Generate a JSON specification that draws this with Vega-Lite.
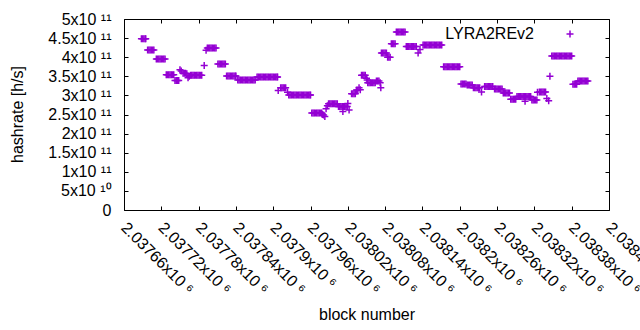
{
  "$schema": "https://vega.github.io/schema/vega-lite/v6.json",
  "width": 485,
  "height": 191,
  "autosize": {"type": "none"},
  "padding": {"left": 124, "top": 19, "right": 31, "bottom": 120},
  "background": "white",
  "config": {
    "view": {"stroke": "black", "strokeWidth": 1},
    "font": "Liberation Sans",
    "axis": {
      "domain": false, "grid": false, "tickSize": -4, "tickColor": "black", "tickWidth": 1,
      "labelColor": "black", "titleColor": "black",
      "labelFont": "Liberation Sans", "titleFont": "Liberation Sans",
      "labelFontSize": 16, "titleFontSize": 16, "titleFontWeight": "normal",
      "labelOverlap": false, "labelBound": false, "labelFlush": false
    }
  },
  "data": {"values": [
    {"b":2037688,"h":4.48e11},{"b":2037690,"h":4.48e11},{"b":2037692,"h":4.48e11},{"b":2037694,"h":4.48e11},{"b":2037695,"h":4.48e11},
    {"b":2037698,"h":4.19e11},{"b":2037700,"h":4.19e11},{"b":2037702,"h":4.19e11},{"b":2037704,"h":4.19e11},{"b":2037706,"h":4.19e11},{"b":2037708,"h":4.19e11},
    {"b":2037712,"h":3.95e11},{"b":2037714,"h":3.95e11},{"b":2037716,"h":3.95e11},{"b":2037718,"h":3.95e11},{"b":2037720,"h":3.95e11},{"b":2037722,"h":3.95e11},{"b":2037724,"h":3.95e11},{"b":2037726,"h":3.95e11},
    {"b":2037728,"h":3.54e11},{"b":2037730,"h":3.54e11},{"b":2037732,"h":3.54e11},{"b":2037734,"h":3.54e11},{"b":2037736,"h":3.54e11},{"b":2037738,"h":3.54e11},{"b":2037740,"h":3.54e11},
    {"b":2037742,"h":3.39e11},{"b":2037744,"h":3.39e11},{"b":2037746,"h":3.39e11},{"b":2037748,"h":3.39e11},
    {"b":2037750,"h":3.67e11},{"b":2037752,"h":3.64e11},{"b":2037755,"h":3.58e11},{"b":2037757,"h":3.58e11},{"b":2037759,"h":3.58e11},{"b":2037761,"h":3.57e11},{"b":2037763,"h":3.46e11},{"b":2037765,"h":3.50e11},
    {"b":2037767,"h":3.53e11},{"b":2037769,"h":3.53e11},{"b":2037771,"h":3.53e11},{"b":2037773,"h":3.53e11},{"b":2037775,"h":3.53e11},{"b":2037777,"h":3.53e11},{"b":2037779,"h":3.53e11},{"b":2037781,"h":3.53e11},{"b":2037783,"h":3.53e11},{"b":2037785,"h":3.53e11},
    {"b":2037789,"h":3.78e11},
    {"b":2037792,"h":4.18e11},{"b":2037794,"h":4.24e11},{"b":2037796,"h":4.24e11},{"b":2037798,"h":4.24e11},{"b":2037800,"h":4.24e11},{"b":2037802,"h":4.24e11},{"b":2037804,"h":4.24e11},{"b":2037806,"h":4.24e11},{"b":2037808,"h":4.24e11},
    {"b":2037811,"h":3.82e11},{"b":2037813,"h":3.82e11},{"b":2037815,"h":3.82e11},{"b":2037817,"h":3.82e11},{"b":2037819,"h":3.82e11},{"b":2037821,"h":3.82e11},{"b":2037823,"h":3.82e11},
    {"b":2037825,"h":3.51e11},{"b":2037827,"h":3.51e11},{"b":2037829,"h":3.51e11},{"b":2037831,"h":3.51e11},{"b":2037833,"h":3.51e11},{"b":2037835,"h":3.51e11},{"b":2037837,"h":3.51e11},{"b":2037839,"h":3.51e11},{"b":2037840,"h":3.51e11},
    {"b":2037843,"h":3.40e11},{"b":2037845,"h":3.40e11},{"b":2037847,"h":3.40e11},{"b":2037849,"h":3.40e11},{"b":2037851,"h":3.40e11},{"b":2037853,"h":3.40e11},{"b":2037855,"h":3.40e11},{"b":2037857,"h":3.40e11},{"b":2037859,"h":3.40e11},{"b":2037861,"h":3.40e11},{"b":2037863,"h":3.40e11},{"b":2037865,"h":3.40e11},{"b":2037867,"h":3.40e11},{"b":2037869,"h":3.40e11},{"b":2037871,"h":3.40e11},
    {"b":2037874,"h":3.48e11},{"b":2037876,"h":3.48e11},{"b":2037878,"h":3.48e11},{"b":2037880,"h":3.48e11},{"b":2037882,"h":3.48e11},{"b":2037884,"h":3.48e11},{"b":2037886,"h":3.48e11},{"b":2037888,"h":3.48e11},{"b":2037890,"h":3.48e11},{"b":2037892,"h":3.48e11},{"b":2037894,"h":3.48e11},{"b":2037896,"h":3.48e11},{"b":2037898,"h":3.48e11},{"b":2037900,"h":3.48e11},{"b":2037902,"h":3.48e11},{"b":2037904,"h":3.48e11},{"b":2037906,"h":3.48e11},{"b":2037907,"h":3.48e11},
    {"b":2037908,"h":3.13e11},{"b":2037912,"h":3.20e11},{"b":2037914,"h":3.20e11},{"b":2037916,"h":3.20e11},{"b":2037918,"h":3.20e11},{"b":2037920,"h":3.20e11},{"b":2037923,"h":3.08e11},
    {"b":2037925,"h":3.01e11},{"b":2037927,"h":3.01e11},{"b":2037929,"h":3.01e11},{"b":2037931,"h":3.01e11},{"b":2037933,"h":3.01e11},{"b":2037935,"h":3.01e11},{"b":2037937,"h":3.01e11},{"b":2037939,"h":3.01e11},{"b":2037941,"h":3.01e11},{"b":2037943,"h":3.01e11},{"b":2037945,"h":3.01e11},{"b":2037947,"h":3.01e11},{"b":2037949,"h":3.01e11},{"b":2037951,"h":3.01e11},{"b":2037953,"h":3.01e11},{"b":2037955,"h":3.01e11},{"b":2037957,"h":3.01e11},{"b":2037959,"h":3.01e11},{"b":2037960,"h":3.01e11},
    {"b":2037962,"h":2.54e11},{"b":2037964,"h":2.54e11},{"b":2037966,"h":2.54e11},{"b":2037968,"h":2.54e11},{"b":2037970,"h":2.54e11},{"b":2037972,"h":2.54e11},{"b":2037974,"h":2.54e11},{"b":2037976,"h":2.54e11},{"b":2037978,"h":2.54e11},{"b":2037979,"h":2.50e11},{"b":2037981,"h":2.49e11},{"b":2037983,"h":2.45e11},
    {"b":2037985,"h":2.65e11},{"b":2037987,"h":2.73e11},{"b":2037989,"h":2.78e11},{"b":2037991,"h":2.78e11},{"b":2037993,"h":2.78e11},{"b":2037995,"h":2.78e11},{"b":2037997,"h":2.78e11},{"b":2037999,"h":2.78e11},{"b":2038001,"h":2.78e11},{"b":2038003,"h":2.78e11},
    {"b":2038005,"h":2.71e11},{"b":2038007,"h":2.71e11},{"b":2038009,"h":2.71e11},{"b":2038011,"h":2.71e11},{"b":2038012,"h":2.58e11},{"b":2038013,"h":2.71e11},{"b":2038015,"h":2.71e11},{"b":2038017,"h":2.71e11},{"b":2038019,"h":2.71e11},{"b":2038020,"h":2.79e11},{"b":2038022,"h":2.62e11},
    {"b":2038026,"h":3.04e11},{"b":2038028,"h":3.04e11},{"b":2038030,"h":3.04e11},{"b":2038032,"h":3.04e11},{"b":2038034,"h":3.14e11},{"b":2038036,"h":3.14e11},{"b":2038038,"h":3.20e11},{"b":2038040,"h":3.15e11},
    {"b":2038042,"h":3.53e11},{"b":2038044,"h":3.53e11},{"b":2038046,"h":3.53e11},{"b":2038048,"h":3.53e11},{"b":2038050,"h":3.45e11},{"b":2038051,"h":3.40e11},
    {"b":2038052,"h":3.33e11},{"b":2038054,"h":3.33e11},{"b":2038056,"h":3.33e11},{"b":2038058,"h":3.33e11},{"b":2038060,"h":3.33e11},{"b":2038062,"h":3.33e11},{"b":2038064,"h":3.33e11},{"b":2038066,"h":3.38e11},{"b":2038068,"h":3.38e11},{"b":2038070,"h":3.38e11},{"b":2038072,"h":3.33e11},{"b":2038073,"h":3.20e11},
    {"b":2038074,"h":4.11e11},{"b":2038076,"h":4.11e11},{"b":2038078,"h":4.11e11},{"b":2038080,"h":4.11e11},{"b":2038082,"h":4.11e11},{"b":2038084,"h":4.00e11},{"b":2038086,"h":4.00e11},{"b":2038088,"h":4.00e11},
    {"b":2038090,"h":4.35e11},{"b":2038092,"h":4.35e11},{"b":2038094,"h":4.35e11},{"b":2038096,"h":4.35e11},
    {"b":2038098,"h":4.66e11},{"b":2038100,"h":4.66e11},{"b":2038102,"h":4.66e11},{"b":2038104,"h":4.66e11},{"b":2038106,"h":4.66e11},{"b":2038108,"h":4.66e11},{"b":2038110,"h":4.66e11},{"b":2038112,"h":4.66e11},
    {"b":2038114,"h":4.28e11},{"b":2038116,"h":4.28e11},{"b":2038118,"h":4.28e11},{"b":2038120,"h":4.28e11},{"b":2038122,"h":4.28e11},{"b":2038124,"h":4.28e11},{"b":2038126,"h":4.28e11},{"b":2038128,"h":4.28e11},{"b":2038130,"h":4.28e11},
    {"b":2038133,"h":4.11e11},{"b":2038136,"h":4.20e11},
    {"b":2038141,"h":4.32e11},{"b":2038143,"h":4.32e11},{"b":2038145,"h":4.32e11},{"b":2038147,"h":4.32e11},{"b":2038149,"h":4.32e11},{"b":2038151,"h":4.32e11},{"b":2038153,"h":4.32e11},{"b":2038155,"h":4.32e11},{"b":2038157,"h":4.32e11},{"b":2038159,"h":4.32e11},{"b":2038161,"h":4.32e11},{"b":2038163,"h":4.32e11},{"b":2038165,"h":4.32e11},{"b":2038167,"h":4.32e11},{"b":2038169,"h":4.32e11},{"b":2038171,"h":4.32e11},
    {"b":2038174,"h":3.75e11},{"b":2038176,"h":3.75e11},{"b":2038178,"h":3.75e11},{"b":2038180,"h":3.75e11},{"b":2038182,"h":3.75e11},{"b":2038184,"h":3.75e11},{"b":2038186,"h":3.75e11},{"b":2038188,"h":3.75e11},{"b":2038190,"h":3.75e11},{"b":2038192,"h":3.75e11},{"b":2038194,"h":3.75e11},{"b":2038196,"h":3.75e11},{"b":2038198,"h":3.75e11},{"b":2038200,"h":3.75e11},
    {"b":2038202,"h":3.30e11},{"b":2038204,"h":3.30e11},{"b":2038206,"h":3.30e11},{"b":2038208,"h":3.30e11},{"b":2038210,"h":3.30e11},
    {"b":2038212,"h":3.27e11},{"b":2038214,"h":3.27e11},{"b":2038216,"h":3.27e11},{"b":2038218,"h":3.27e11},{"b":2038220,"h":3.27e11},
    {"b":2038222,"h":3.20e11},{"b":2038224,"h":3.20e11},{"b":2038226,"h":3.20e11},{"b":2038228,"h":3.20e11},{"b":2038230,"h":3.20e11},{"b":2038232,"h":3.20e11},{"b":2038235,"h":3.09e11},
    {"b":2038240,"h":3.23e11},{"b":2038242,"h":3.23e11},{"b":2038244,"h":3.23e11},{"b":2038246,"h":3.23e11},{"b":2038248,"h":3.23e11},{"b":2038250,"h":3.23e11},{"b":2038252,"h":3.23e11},{"b":2038253,"h":3.23e11},
    {"b":2038256,"h":3.17e11},{"b":2038258,"h":3.17e11},{"b":2038260,"h":3.17e11},{"b":2038262,"h":3.17e11},{"b":2038264,"h":3.17e11},{"b":2038266,"h":3.17e11},{"b":2038268,"h":3.17e11},
    {"b":2038270,"h":3.06e11},{"b":2038272,"h":3.06e11},{"b":2038274,"h":3.06e11},{"b":2038276,"h":3.06e11},{"b":2038278,"h":3.06e11},{"b":2038280,"h":3.06e11},
    {"b":2038282,"h":2.90e11},{"b":2038284,"h":2.90e11},{"b":2038286,"h":2.90e11},{"b":2038288,"h":2.90e11},{"b":2038290,"h":2.90e11},
    {"b":2038292,"h":2.97e11},{"b":2038294,"h":2.97e11},{"b":2038296,"h":2.97e11},{"b":2038298,"h":2.97e11},{"b":2038300,"h":2.97e11},{"b":2038302,"h":2.97e11},{"b":2038304,"h":2.97e11},{"b":2038305,"h":2.85e11},
    {"b":2038306,"h":2.97e11},{"b":2038308,"h":2.97e11},{"b":2038310,"h":2.97e11},{"b":2038312,"h":2.97e11},{"b":2038314,"h":2.97e11},
    {"b":2038316,"h":2.88e11},{"b":2038318,"h":2.88e11},{"b":2038320,"h":2.88e11},{"b":2038322,"h":2.88e11},{"b":2038324,"h":2.88e11},{"b":2038325,"h":3.08e11},
    {"b":2038328,"h":3.09e11},{"b":2038330,"h":3.09e11},{"b":2038332,"h":3.09e11},{"b":2038334,"h":3.09e11},{"b":2038336,"h":3.09e11},{"b":2038338,"h":3.09e11},
    {"b":2038340,"h":2.92e11},{"b":2038343,"h":2.86e11},{"b":2038345,"h":3.50e11},
    {"b":2038348,"h":4.03e11},{"b":2038350,"h":4.03e11},{"b":2038352,"h":4.03e11},{"b":2038354,"h":4.03e11},{"b":2038356,"h":4.03e11},{"b":2038358,"h":4.03e11},{"b":2038360,"h":4.03e11},{"b":2038362,"h":4.03e11},{"b":2038364,"h":4.03e11},{"b":2038366,"h":4.03e11},{"b":2038368,"h":4.03e11},{"b":2038370,"h":4.03e11},{"b":2038372,"h":4.03e11},{"b":2038374,"h":4.03e11},{"b":2038376,"h":4.03e11},{"b":2038378,"h":4.03e11},{"b":2038380,"h":4.03e11},
    {"b":2038382,"h":3.29e11},{"b":2038384,"h":3.29e11},{"b":2038386,"h":3.29e11},{"b":2038388,"h":3.29e11},
    {"b":2038390,"h":3.38e11},{"b":2038392,"h":3.38e11},{"b":2038394,"h":3.38e11},{"b":2038396,"h":3.38e11},{"b":2038398,"h":3.38e11},{"b":2038400,"h":3.38e11},{"b":2038402,"h":3.38e11},{"b":2038404,"h":3.38e11},{"b":2038406,"h":3.38e11}
  ]},
  "layer": [
    {
      "mark": {"type": "point", "shape": "M-1,0H1M0,-1V1", "filled": false, "strokeWidth": 1.5, "size": 49, "opacity": 1},
      "encoding": {
        "x": {
          "field": "b", "type": "quantitative",
          "scale": {"domain": [2037660, 2038440], "nice": false, "zero": false},
          "axis": {
            "orient": "bottom",
            "values": [2037660, 2037720, 2037780, 2037840, 2037900, 2037960, 2038020, 2038080, 2038140, 2038200, 2038260, 2038320, 2038380, 2038440],
            "labelExpr": "format(datum.value / 1e6, '.6~g') + 'x10 ⁶'",
            "labelAngle": 45, "labelAlign": "left", "labelBaseline": "top", "labelPadding": 13, "labelOffset": 5,
            "title": "block number", "titleY": 104, "titleBaseline": "middle"
          }
        },
        "y": {
          "field": "h", "type": "quantitative",
          "scale": {"domain": [0, 5e11], "nice": false, "zero": true},
          "axis": {
            "orient": "left",
            "values": [0, 5e10, 1e11, 1.5e11, 2e11, 2.5e11, 3e11, 3.5e11, 4e11, 4.5e11, 5e11],
            "labelExpr": "datum.value == 0 ? '0' : (datum.value < 1e11 ? '5x10 ¹⁰' : format(datum.value / 1e11, '.2~g') + 'x10 ¹¹')",
            "labelPadding": 17,
            "title": "hashrate [h/s]", "titleX": -107, "titleY": 95, "titleAngle": -90, "titleAlign": "center", "titleBaseline": "middle"
          }
        },
        "color": {
          "datum": "LYRA2REv2",
          "scale": {"range": ["#9400d3"]},
          "legend": {
            "title": null, "orient": "none", "legendX": 438, "legendY": 7, "padding": 0,
            "symbolType": "M-1,0H1M0,-1V1", "symbolSize": 49, "symbolStrokeWidth": 1.5,
            "symbolStrokeColor": "#9400d3", "symbolFillColor": "transparent",
            "labelAlign": "right", "labelOffset": -44, "labelFontSize": 16, "labelFont": "Liberation Sans", "labelColor": "black"
          }
        }
      }
    },
    {
      "mark": {"type": "point", "opacity": 0},
      "encoding": {
        "x": {
          "field": "b", "type": "quantitative",
          "axis": {"orient": "top", "labels": false, "title": null,
            "values": [2037660, 2037720, 2037780, 2037840, 2037900, 2037960, 2038020, 2038080, 2038140, 2038200, 2038260, 2038320, 2038380, 2038440]}
        },
        "y": {
          "field": "h", "type": "quantitative",
          "axis": {"orient": "right", "labels": false, "title": null,
            "values": [0, 5e10, 1e11, 1.5e11, 2e11, 2.5e11, 3e11, 3.5e11, 4e11, 4.5e11, 5e11]}
        }
      }
    }
  ]
}
